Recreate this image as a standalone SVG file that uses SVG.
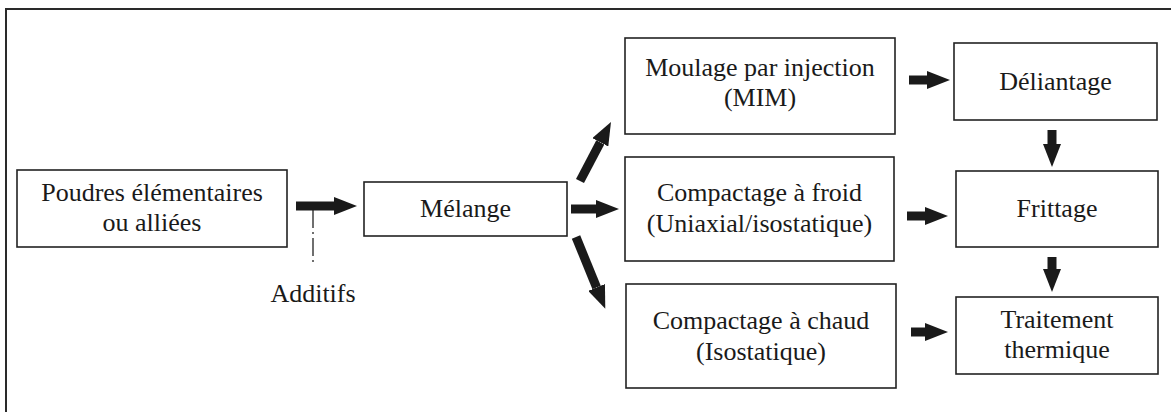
<svg xmlns="http://www.w3.org/2000/svg" width="1171" height="412" viewBox="0 0 1171 412">
  <style>
    .box { fill: #ffffff; stroke: #222222; stroke-width: 1.6; }
    .lbl { font-family: 'Liberation Serif', 'Times New Roman', Times, 'DejaVu Serif', serif; font-size: 26px; fill: #1a1a1a; text-anchor: middle; }
    .arr { stroke: #1a1a1a; stroke-width: 9; fill: none; marker-end: url(#head); }
    .dashdot { stroke: #333333; stroke-width: 1.4; stroke-dasharray: 18 4 2 4; fill: none; }
    .frame { stroke: #2a2a2a; stroke-width: 2; fill: none; }
  </style>
  <defs>
    <marker id="head" markerUnits="userSpaceOnUse" markerWidth="23" markerHeight="18" refX="0" refY="9" orient="auto" viewBox="0 0 23 18">
      <path d="M0,0 L23,9 L0,18 z" fill="#1a1a1a"/>
    </marker>
  </defs>

  <rect width="1171" height="412" fill="#ffffff"/>
  <!-- outer frame runs off the right and bottom edges -->
  <path class="frame" d="M6,412 V9 H1171"/>

  <g id="poudres">
    <rect class="box" x="17" y="170" width="270" height="77"/>
    <text class="lbl" x="152" y="201">Poudres élémentaires</text>
    <text class="lbl" x="152" y="231">ou alliées</text>
  </g>

  <g id="additifs">
    <text class="lbl" x="313" y="302">Additifs</text>
  </g>

  <g id="melange">
    <rect class="box" x="364" y="182" width="203" height="54"/>
    <text class="lbl" x="465.5" y="217">Mélange</text>
  </g>

  <g id="mim">
    <rect class="box" x="625" y="38" width="270" height="96"/>
    <text class="lbl" x="760" y="76">Moulage par injection</text>
    <text class="lbl" x="760" y="106">(MIM)</text>
  </g>

  <g id="compactage-froid">
    <rect class="box" x="625" y="157" width="269" height="104"/>
    <text class="lbl" x="759.5" y="201">Compactage à froid</text>
    <text class="lbl" x="759.5" y="232">(Uniaxial/isostatique)</text>
  </g>

  <g id="compactage-chaud">
    <rect class="box" x="626" y="284" width="270" height="104"/>
    <text class="lbl" x="761" y="329">Compactage à chaud</text>
    <text class="lbl" x="761" y="360">(Isostatique)</text>
  </g>

  <g id="deliantage">
    <rect class="box" x="954" y="43" width="203" height="77"/>
    <text class="lbl" x="1055.5" y="90">Déliantage</text>
  </g>

  <g id="frittage">
    <rect class="box" x="956" y="171" width="202" height="76"/>
    <text class="lbl" x="1057" y="217">Frittage</text>
  </g>

  <g id="traitement">
    <rect class="box" x="956" y="297" width="202" height="77"/>
    <text class="lbl" x="1057" y="328">Traitement</text>
    <text class="lbl" x="1057" y="358">thermique</text>
  </g>

  <g id="connectors">
    <!-- additive feed line -->
    <line class="dashdot" x1="313" y1="210" x2="313" y2="266"/>
    <!-- thick block arrows; each line stops where its head begins -->
    <line class="arr" x1="296" y1="206" x2="334" y2="206"/>
    <line class="arr" x1="580" y1="181" x2="600.3" y2="142.3"/>
    <line class="arr" x1="571" y1="209" x2="596" y2="209"/>
    <line class="arr" x1="576" y1="237" x2="596.6" y2="287.5"/>
    <line class="arr" x1="909" y1="80" x2="927" y2="80"/>
    <line class="arr" x1="907" y1="216" x2="925" y2="216"/>
    <line class="arr" x1="911" y1="332" x2="925" y2="332"/>
    <line class="arr" x1="1052" y1="130" x2="1052" y2="144"/>
    <line class="arr" x1="1052" y1="257" x2="1052" y2="269"/>
  </g>
</svg>
